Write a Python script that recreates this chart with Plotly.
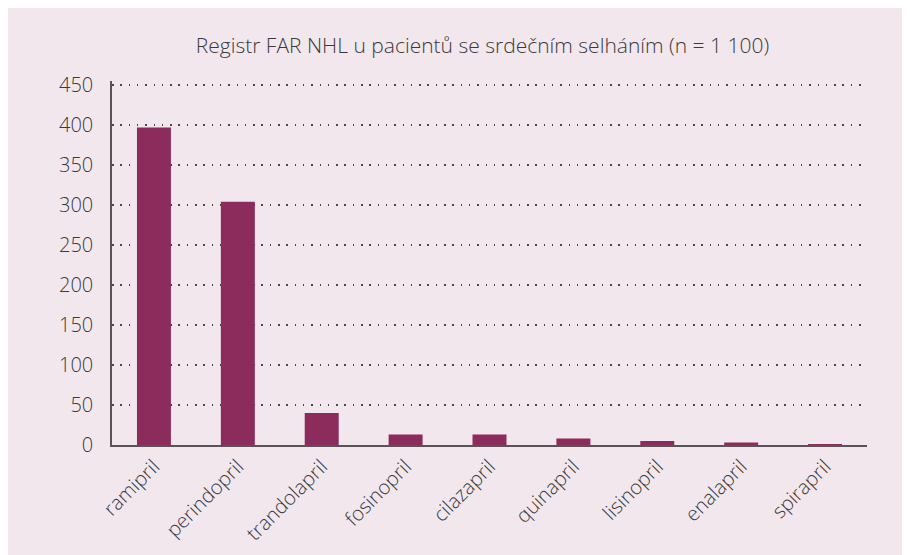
import plotly.graph_objects as go

categories = ["ramipril", "perindopril", "trandolapril", "fosinopril", "cilazapril",
              "quinapril", "lisinopril", "enalapril", "spirapril"]
values = [397, 304, 40, 13, 13, 8, 5, 3, 1]
y_ticks = [0, 50, 100, 150, 200, 250, 300, 350, 400, 450]
title_text = "Registr FAR NHL u pacientů se srdečním selháním (n = 1 100)"

BG = "#F2E7ED"
BAR = "#8C2C5C"
TXT = "#3a3a3a"
FONT = "Open Sans"

fig = go.Figure(go.Bar(x=categories, y=values, marker=dict(color=BAR, line=dict(width=0)),
                       width=0.405))

fig.update_layout(
    width=910, height=555,
    paper_bgcolor=BG, plot_bgcolor=BG,
    margin=dict(l=104, r=51, t=73, b=118, autoexpand=False),
    title=dict(text=title_text, x=0.5214, xanchor="center", y=0.933, yanchor="middle",
               font=dict(family=FONT, size=21, color=TXT, weight=300)),
    showlegend=False,
    font=dict(family=FONT, size=20, color=TXT),
)
fig.update_xaxes(showline=True, linecolor="#5a5256", linewidth=2, tickangle=-45,
                 showgrid=False, ticks="", automargin=False,
                 tickfont=dict(family=FONT, size=20, color=TXT, weight=300))
fig.update_yaxes(range=[0, 455], tickvals=y_ticks, showline=True, linecolor="#5a5256",
                 linewidth=1.5, showgrid=True, gridcolor="#4a4a4a", griddash="1.5px,6.8px",
                 gridwidth=1.5, zeroline=False, ticks="", ticklabelstandoff=13,
                 automargin=False,
                 tickfont=dict(family=FONT, size=20, color=TXT, weight=300))

fig.write_html("out.html")
